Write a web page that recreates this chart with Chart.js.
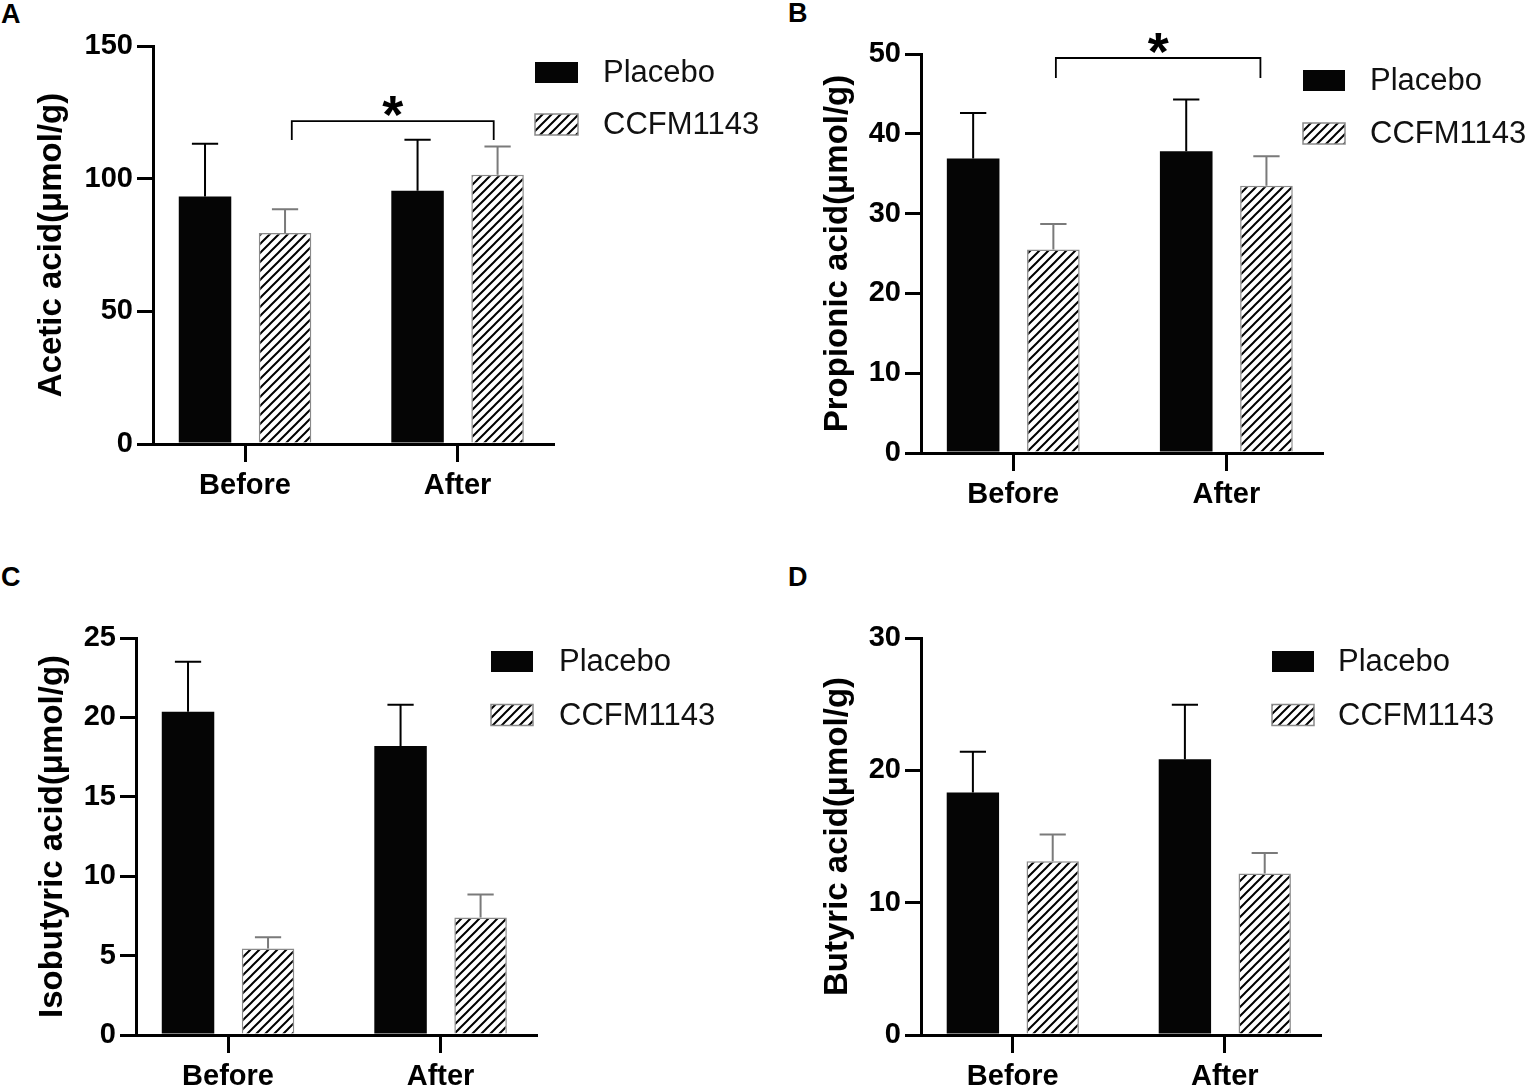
<!DOCTYPE html>
<html lang="en">
<head>
<meta charset="UTF-8">
<title>SCFA panels</title>
<script src="https://cdn.jsdelivr.net/npm/chart.js"></script>
<style>
    body { margin: 0; background: #fff; }
    #wrap { position: relative; width: 1535px; height: 1086px; overflow: hidden; background: #fff; }
    canvas { position: absolute; }
    .tag { position: absolute; font: bold 27px "Liberation Sans", Arial, sans-serif; line-height: 27px; color: #000; }
</style>
</head>
<body>
<div id="wrap">
    <div class="tag" style="left:1px;top:1px">A</div>
    <div class="tag" style="left:788px;top:0">B</div>
    <div class="tag" style="left:1px;top:564px">C</div>
    <div class="tag" style="left:788px;top:564px">D</div>
    <canvas id="panelA" width="767" height="543" style="left:0;top:0"></canvas>
    <canvas id="panelB" width="767" height="543" style="left:768px;top:0"></canvas>
    <canvas id="panelC" width="767" height="543" style="left:0;top:543px"></canvas>
    <canvas id="panelD" width="767" height="543" style="left:768px;top:543px"></canvas>
</div>

<script>
// categories and series
const groups = ["Before", "After"];
const seriesNames = ["Placebo", "CCFM1143"];

// A - acetic acid
const aceticPlacebo = [93.3, 95.4];
const aceticPlaceboErr = [19.9, 19.3];
const aceticCcfm = [79.5, 101.5];
const aceticCcfmErr = [9.0, 10.6];
const aceticTicks = [0, 50, 100, 150];

// B - propionic acid
const propionicPlacebo = [36.9, 37.8];
const propionicPlaceboErr = [5.7, 6.5];
const propionicCcfm = [25.5, 33.5];
const propionicCcfmErr = [3.2, 3.7];
const propionicTicks = [0, 10, 20, 30, 40, 50];

// C - isobutyric acid
const isobutyricPlacebo = [20.35, 18.2];
const isobutyricPlaceboErr = [3.15, 2.6];
const isobutyricCcfm = [5.45, 7.4];
const isobutyricCcfmErr = [0.7, 1.45];
const isobutyricTicks = [0, 5, 10, 15, 20, 25];

// D - butyric acid
const butyricPlacebo = [18.33, 20.83];
const butyricPlaceboErr = [3.07, 4.12];
const butyricCcfm = [13.13, 12.2];
const butyricCcfmErr = [2.02, 1.56];
const butyricTicks = [0, 10, 20, 30];

// significance brackets: [x from, x to, y of bar, y of leg ends]
const aceticBracket = [0.22, 1.17, 121.7, 114.6];
const propionicBracket = [0.2, 1.16, 49.5, 47.0];

const FONT = '"Liberation Sans", Arial, sans-serif';

function hatchPattern() {
    const c = document.createElement("canvas");
    c.width = 9; c.height = 9;
    const g = c.getContext("2d");
    g.fillStyle = "#fff";
    g.fillRect(0, 0, 9, 9);
    g.strokeStyle = "#000";
    g.lineWidth = 2;
    g.beginPath();
    g.moveTo(-1, 10); g.lineTo(10, -1);
    g.moveTo(-2, 2); g.lineTo(2, -2);
    g.moveTo(7, 11); g.lineTo(11, 7);
    g.stroke();
    return g.createPattern(c, "repeat");
}
const hatch = hatchPattern();

// error bars, bracket, star and legend
const extras = {
    id: "extras",
    afterDatasetsDraw(chart, args, opts) {
        const ctx = chart.ctx;
        const ys = chart.scales.y, xs = chart.scales.x;
        opts.errors.forEach((errs, di) => {
            const meta = chart.getDatasetMeta(di);
            const vals = chart.data.datasets[di].data;
            ctx.save();
            ctx.strokeStyle = opts.errColors[di];
            ctx.lineWidth = 2;
            meta.data.forEach((bar, j) => {
                const top = ys.getPixelForValue(vals[j].y + errs[j]);
                const half = bar.width / 4;
                ctx.beginPath();
                ctx.moveTo(bar.x, bar.y);
                ctx.lineTo(bar.x, top);
                ctx.moveTo(bar.x - half, top);
                ctx.lineTo(bar.x + half, top);
                ctx.stroke();
            });
            ctx.restore();
        });

        if (opts.bracket) {
            const [x0, x1, yb, yl] = opts.bracket;
            const px0 = xs.getPixelForValue(x0), px1 = xs.getPixelForValue(x1);
            const py = ys.getPixelForValue(yb), pl = ys.getPixelForValue(yl);
            ctx.save();
            ctx.strokeStyle = "#000";
            ctx.lineWidth = 1.8;
            ctx.beginPath();
            ctx.moveTo(px0, pl); ctx.lineTo(px0, py);
            ctx.lineTo(px1, py); ctx.lineTo(px1, pl);
            ctx.stroke();
            ctx.fillStyle = "#000";
            ctx.font = "bold 54px " + FONT;
            ctx.textAlign = "center";
            ctx.textBaseline = "alphabetic";
            ctx.fillText("*", (px0 + px1) / 2, py + 12);
            ctx.restore();
        }
    },
    afterDraw(chart, args, opts) {
        const ctx = chart.ctx;
        const lg = opts.legend;
        ctx.save();
        chart.data.datasets.forEach((ds, i) => {
            const top = lg.y + i * lg.gap;
            ctx.fillStyle = ds.backgroundColor;
            ctx.fillRect(lg.x, top, lg.w, lg.h);
            if (ds.borderWidth) {
                ctx.strokeStyle = ds.borderColor;
                ctx.lineWidth = 1.5;
                ctx.strokeRect(lg.x, top, lg.w, lg.h);
            }
            ctx.fillStyle = "#111";
            ctx.font = "31px " + FONT;
            ctx.textAlign = "left";
            ctx.textBaseline = "middle";
            ctx.fillText(ds.label, lg.tx, top + lg.h / 2 + 1);
        });
        ctx.restore();
    }
};

function makePanel(id, p) {
    new Chart(document.getElementById(id), {
        type: "bar",
        data: {
            datasets: [
                {
                    label: seriesNames[0],
                    data: groups.map((g, i) => ({ x: i, y: p.placebo[i] })),
                    backgroundColor: "#050505",
                    borderWidth: 0
                },
                {
                    label: seriesNames[1],
                    data: groups.map((g, i) => ({ x: i, y: p.ccfm[i] })),
                    backgroundColor: hatch,
                    borderColor: "#8a8a8a",
                    borderWidth: 1.5
                }
            ]
        },
        options: {
            responsive: false,
            animation: false,
            layout: { padding: p.pad },
            datasets: { bar: { categoryPercentage: 0.753, barPercentage: 0.656 } },
            plugins: {
                legend: { display: false },
                tooltip: { enabled: false },
                extras: {
                    errors: [p.placeboErr, p.ccfmErr],
                    errColors: ["#000", "#7a7a7a"],
                    bracket: p.bracket,
                    legend: p.legend
                }
            },
            scales: {
                x: {
                    type: "linear",
                    min: -0.433,
                    max: 1.449,
                    offset: false,
                    afterBuildTicks: s => { s.ticks = groups.map((g, i) => ({ value: i })); },
                    afterFit: s => { s.height = p.xh; },
                    ticks: {
                        callback: v => groups[v],
                        font: { family: FONT, size: 29, weight: "bold" },
                        color: "#000",
                        padding: 7,
                        maxRotation: 0,
                        autoSkip: false
                    },
                    grid: { drawOnChartArea: false, offset: false, tickLength: 18, lineWidth: 3, color: "#000" },
                    border: { color: "#000", width: 3 }
                },
                y: {
                    min: 0,
                    max: p.ticks[p.ticks.length - 1],
                    afterBuildTicks: s => { s.ticks = p.ticks.map(v => ({ value: v })); },
                    afterFit: s => { s.width = p.yw; },
                    title: {
                        display: true,
                        text: p.title,
                        font: { family: FONT, size: 33, weight: "bold" },
                        color: "#000",
                        padding: { top: 4, bottom: 0 }
                    },
                    ticks: {
                        font: { family: FONT, size: 29, weight: "bold" },
                        color: "#000",
                        padding: 4
                    },
                    grid: { drawOnChartArea: false, tickLength: 16, lineWidth: 3, color: "#000" },
                    border: { color: "#000", width: 3 }
                }
            }
        },
        plugins: [extras]
    });
}

makePanel("panelA", {
    title: "Acetic acid(μmol/g)",
    placebo: aceticPlacebo, placeboErr: aceticPlaceboErr,
    ccfm: aceticCcfm, ccfmErr: aceticCcfmErr,
    ticks: aceticTicks, bracket: aceticBracket,
    pad: { left: 28, top: 46, right: 214, bottom: 19 }, yw: 125, xh: 80,
    legend: { x: 535, y: 62, w: 43, h: 21, gap: 52, tx: 603 }
});
makePanel("panelB", {
    title: "Propionic acid(μmol/g)",
    placebo: propionicPlacebo, placeboErr: propionicPlaceboErr,
    ccfm: propionicCcfm, ccfmErr: propionicCcfmErr,
    ticks: propionicTicks, bracket: propionicBracket,
    pad: { left: 46, top: 54, right: 213, bottom: 10 }, yw: 107, xh: 80,
    legend: { x: 535, y: 70, w: 42, h: 21, gap: 53, tx: 602 }
});
makePanel("panelC", {
    title: "Isobutyric acid(μmol/g)",
    placebo: isobutyricPlacebo, placeboErr: isobutyricPlaceboErr,
    ccfm: isobutyricCcfm, ccfmErr: isobutyricCcfmErr,
    ticks: isobutyricTicks, bracket: null,
    pad: { left: 29, top: 95, right: 231, bottom: 0 }, yw: 107, xh: 51,
    legend: { x: 491, y: 108, w: 42, h: 21, gap: 53.5, tx: 559 }
});
makePanel("panelD", {
    title: "Butyric acid(μmol/g)",
    placebo: butyricPlacebo, placeboErr: butyricPlaceboErr,
    ccfm: butyricCcfm, ccfmErr: butyricCcfmErr,
    ticks: butyricTicks, bracket: null,
    pad: { left: 46, top: 95, right: 215, bottom: 0 }, yw: 107, xh: 51,
    legend: { x: 504, y: 108, w: 42, h: 21, gap: 53.5, tx: 570 }
});
</script>
</body>
</html>
